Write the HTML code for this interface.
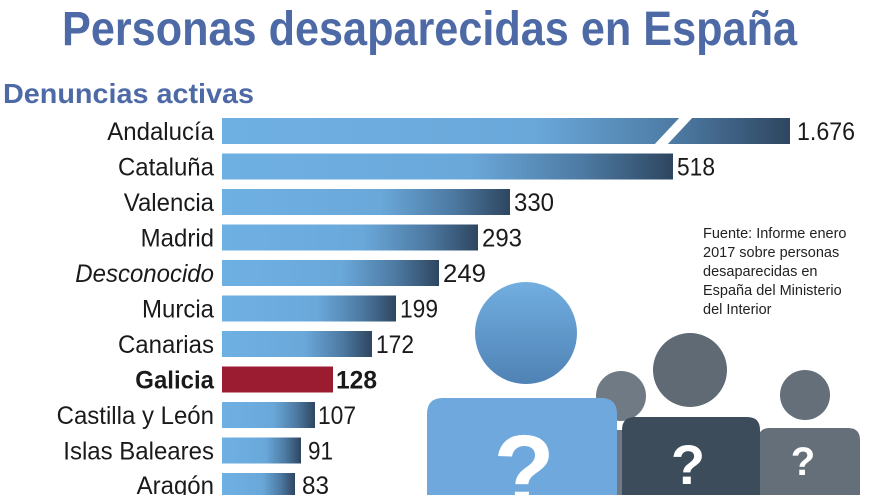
<!DOCTYPE html>
<html><head><meta charset="utf-8"><style>
html,body{margin:0;padding:0;background:#fff;width:880px;height:495px;overflow:hidden;}
svg{display:block;font-family:"Liberation Sans",sans-serif;}
</style></head><body>
<svg width="880" height="495" viewBox="0 0 880 495" overflow="hidden">
<defs>
<linearGradient id="g" x1="0" x2="1" y1="0" y2="0">
<stop offset="0" stop-color="#6fb0e2"/><stop offset="0.55" stop-color="#6aa8da"/><stop offset="0.8" stop-color="#4d7aa3"/><stop offset="1" stop-color="#2e4660"/>
</linearGradient>
<linearGradient id="hb" x1="0" x2="0" y1="0" y2="1">
<stop offset="0" stop-color="#72aee0"/><stop offset="1" stop-color="#4f82b5"/>
</linearGradient>
<clipPath id="c"><rect x="0" y="0" width="880" height="495"/></clipPath>
</defs>
<g clip-path="url(#c)">
<text x="62" y="45" font-size="48" font-weight="bold" fill="#4d6aa6" textLength="735" lengthAdjust="spacingAndGlyphs">Personas desaparecidas en España</text>
<text x="3" y="103" font-size="28" font-weight="bold" fill="#4d6aa6" textLength="251" lengthAdjust="spacingAndGlyphs">Denuncias activas</text>

<g>
<circle cx="621" cy="396" r="25" fill="#6f7a84"/>
<path d="M596 440 q0-10 10-10 h40 v65 h-50z" fill="#6f7a84"/>
<circle cx="805" cy="395" r="25" fill="#646f79"/>
<path d="M758 440 q0-12 12-12 h78 q12 0 12 12 v55 h-102z" fill="#646f79"/>
<text x="803" y="475" font-size="40" font-weight="bold" fill="#fff" text-anchor="middle">?</text>
<circle cx="690" cy="370" r="37" fill="#5f6a74"/>
<path d="M622 430 q0-13 13-13 h112 q13 0 13 13 v65 h-138z" fill="#3c4c5a"/>
<text x="688" y="484" font-size="56" font-weight="bold" fill="#fff" text-anchor="middle">?</text>
<circle cx="526" cy="333" r="51" fill="url(#hb)"/>
<path d="M427 414 q0-16 16-16 h158 q16 0 16 16 v81 h-190z" fill="#6fa8dc"/>
<text x="524" y="505" font-size="100" font-weight="bold" fill="#fff" text-anchor="middle">?</text>
</g>

<g>
<rect x="222" y="118" width="568" height="26" fill="url(#g)"/>
<polygon points="681,116 694,116 666,146 653,146" fill="#fff"/>
<rect x="222" y="153.5" width="451" height="26" fill="url(#g)"/>
<rect x="222" y="189" width="288" height="26" fill="url(#g)"/>
<rect x="222" y="224.5" width="256" height="26" fill="url(#g)"/>
<rect x="222" y="260" width="217" height="26" fill="url(#g)"/>
<rect x="222" y="295.5" width="174" height="26" fill="url(#g)"/>
<rect x="222" y="331" width="150" height="26" fill="url(#g)"/>
<rect x="222" y="366.5" width="111" height="26" fill="#9b1c30"/>
<rect x="222" y="402" width="93" height="26" fill="url(#g)"/>
<rect x="222" y="437.5" width="79" height="26" fill="url(#g)"/>
<rect x="222" y="473" width="73" height="22" fill="url(#g)"/>
</g>

<g font-size="25" fill="#1a1a1a">
<g transform="translate(214,0) scale(0.96,1)" text-anchor="end">
<text x="0" y="140">Andalucía</text>
<text x="0" y="175.5">Cataluña</text>
<text x="0" y="211">Valencia</text>
<text x="0" y="246.5">Madrid</text>
<text x="0" y="282" font-style="italic">Desconocido</text>
<text x="0" y="317.5">Murcia</text>
<text x="0" y="353">Canarias</text>
<text x="0" y="388.5" font-weight="bold">Galicia</text>
<text x="0" y="424">Castilla y León</text>
<text x="0" y="459.5">Islas Baleares</text>
<text x="0" y="494">Aragón</text>
</g>
<text x="797" y="140" textLength="58" lengthAdjust="spacingAndGlyphs">1.676</text>
<text x="677" y="175.5" textLength="38" lengthAdjust="spacingAndGlyphs">518</text>
<text x="514" y="211" textLength="40" lengthAdjust="spacingAndGlyphs">330</text>
<text x="482" y="246.5" textLength="40" lengthAdjust="spacingAndGlyphs">293</text>
<text x="443" y="282" textLength="43" lengthAdjust="spacingAndGlyphs">249</text>
<text x="400" y="317.5" textLength="38" lengthAdjust="spacingAndGlyphs">199</text>
<text x="376" y="353" textLength="38" lengthAdjust="spacingAndGlyphs">172</text>
<text x="336" y="388.5" font-weight="bold" textLength="41" lengthAdjust="spacingAndGlyphs">128</text>
<text x="318" y="424" textLength="38" lengthAdjust="spacingAndGlyphs">107</text>
<text x="308" y="459.5" textLength="25" lengthAdjust="spacingAndGlyphs">91</text>
<text x="302" y="494" textLength="27" lengthAdjust="spacingAndGlyphs">83</text>
</g>

<g font-size="14.5" fill="#222">
<text x="703" y="238">Fuente: Informe enero</text>
<text x="703" y="257">2017 sobre personas</text>
<text x="703" y="276">desaparecidas en</text>
<text x="703" y="295">España del Ministerio</text>
<text x="703" y="314">del Interior</text>
</g>
</g>
</svg>
</body></html>
